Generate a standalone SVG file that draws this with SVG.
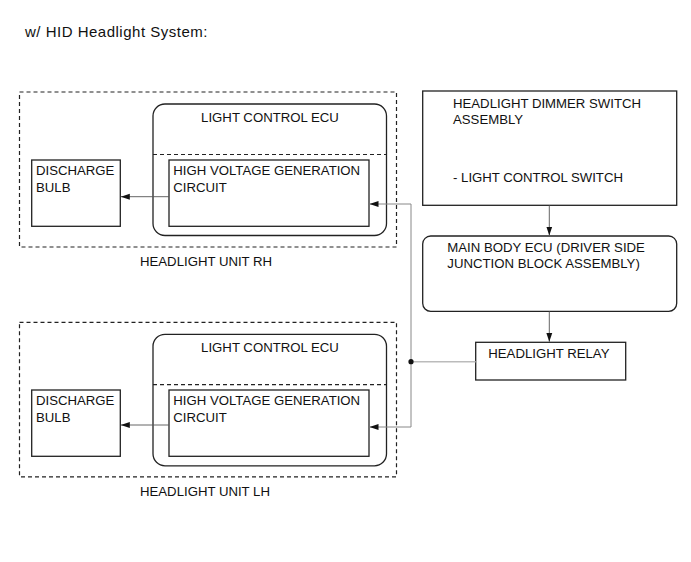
<svg xmlns="http://www.w3.org/2000/svg" width="691" height="562" viewBox="0 0 691 562">
<defs>
<style>
text{font-family:"Liberation Sans",Arial,sans-serif;font-size:13.2px;fill:#111}
.box{fill:none;stroke:#222;stroke-width:1.3}
.dash{fill:none;stroke:#222;stroke-width:1.2;stroke-dasharray:4,3}
.conn{fill:none;stroke:#555;stroke-width:0.9}
.gray{fill:none;stroke:#888;stroke-width:1}
.lgray{fill:none;stroke:#bbb;stroke-width:1.5}
</style>
<marker id="ah" markerWidth="10" markerHeight="8" refX="9" refY="4" orient="auto" markerUnits="userSpaceOnUse">
<path d="M0,1 L9,4 L0,7 Z" fill="#111"/>
</marker>
</defs>
<rect width="691" height="562" fill="#fff"/>
<text x="25" y="37.3" style="font-size:15px;letter-spacing:0.5px">w/ HID Headlight System:</text>

<g id="unit-rh">
<rect class="dash" x="19.5" y="92" width="377" height="155"/>
<text x="140" y="265.7">HEADLIGHT UNIT RH</text>
</g>
<g id="ecu-rh">
<rect class="box" x="153" y="104" width="233.5" height="131.5" rx="12"/>
<line class="dash" x1="153" y1="154.5" x2="386.5" y2="154.5"/>
<text x="270" y="121.7" text-anchor="middle">LIGHT CONTROL ECU</text>
</g>
<g id="hv-rh">
<rect class="box" x="169" y="160" width="200" height="66.3"/>
<text x="173.3" y="175">HIGH VOLTAGE GENERATION</text>
<text x="173.3" y="191.7">CIRCUIT</text>
</g>
<g id="bulb-rh">
<rect class="box" x="31.7" y="160" width="88.6" height="66.3"/>
<text x="36" y="175">DISCHARGE</text>
<text x="36" y="191.7">BULB</text>
</g>

<g id="unit-lh">
<rect class="dash" x="19.5" y="322.3" width="377" height="154.5"/>
<text x="140" y="496">HEADLIGHT UNIT LH</text>
</g>
<g id="ecu-lh">
<rect class="box" x="153" y="334.3" width="233.5" height="131.5" rx="12"/>
<line class="dash" x1="153" y1="384.7" x2="386.5" y2="384.7"/>
<text x="270" y="352" text-anchor="middle">LIGHT CONTROL ECU</text>
</g>
<g id="hv-lh">
<rect class="box" x="169" y="390" width="200" height="66.3"/>
<text x="173.3" y="405.3">HIGH VOLTAGE GENERATION</text>
<text x="173.3" y="422">CIRCUIT</text>
</g>
<g id="bulb-lh">
<rect class="box" x="31.7" y="390" width="88.6" height="66.3"/>
<text x="36" y="405.3">DISCHARGE</text>
<text x="36" y="422">BULB</text>
</g>

<g id="dimmer-switch">
<rect class="box" x="422.7" y="91" width="254" height="114.3"/>
<text x="453" y="108.3">HEADLIGHT DIMMER SWITCH</text>
<text x="453" y="124.3">ASSEMBLY</text>
<text x="453" y="181.7">- LIGHT CONTROL SWITCH</text>
</g>
<g id="main-body-ecu">
<rect class="box" x="422.7" y="236" width="254" height="75.3" rx="8"/>
<text x="447.3" y="251.7">MAIN BODY ECU (DRIVER SIDE</text>
<text x="447.3" y="268">JUNCTION BLOCK ASSEMBLY)</text>
</g>
<g id="headlight-relay">
<rect class="box" x="475.7" y="342.3" width="150" height="37.7"/>
<text x="488.3" y="358.3">HEADLIGHT RELAY</text>
</g>

<g id="connectors">
<line class="conn" x1="549.3" y1="205.3" x2="549.3" y2="235.5" marker-end="url(#ah)"/>
<line class="conn" x1="549.3" y1="311.3" x2="549.3" y2="341.8" marker-end="url(#ah)"/>
<line class="lgray" x1="475.7" y1="361.7" x2="411" y2="361.7"/>
<polyline class="gray" points="411,361.7 411,204 369.5,204" marker-end="url(#ah)"/>
<polyline class="gray" points="411,361.7 411,427 369.5,427" marker-end="url(#ah)"/>
<circle cx="411" cy="361.7" r="2.6" fill="#111"/>
<line class="conn" x1="169" y1="196.7" x2="120.8" y2="196.7" marker-end="url(#ah)"/>
<line class="conn" x1="169" y1="425" x2="120.8" y2="425" marker-end="url(#ah)"/>
</g>
</svg>
